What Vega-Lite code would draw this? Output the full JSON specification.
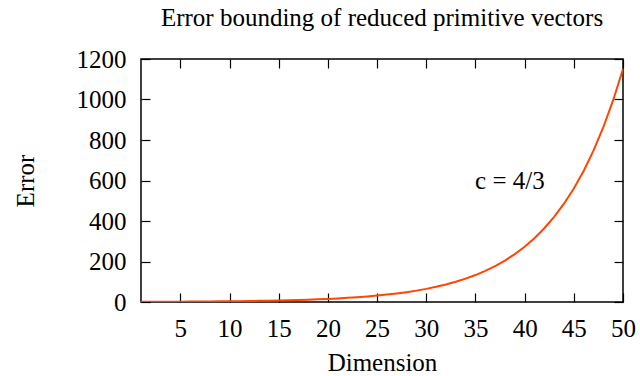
{
  "$schema": "https://vega.github.io/schema/vega-lite/v6.json",
  "autosize": {"type": "none"},
  "padding": {"left": 141, "top": 59, "right": 17, "bottom": 74},
  "width": 482,
  "height": 243,
  "background": "white",
  "title": {"text": "Error bounding of reduced primitive vectors", "font": "Liberation Serif", "fontSize": 25, "fontWeight": "normal", "color": "black", "anchor": "middle", "offset": 16},
  "config": {
    "view": {"stroke": "black", "strokeWidth": 1.5},
    "axis": {"labelFont": "Liberation Serif", "titleFont": "Liberation Serif", "labelFontSize": 25, "titleFontSize": 25, "titleFontWeight": "normal", "labelColor": "black", "titleColor": "black", "grid": false, "domain": false, "tickColor": "black", "tickWidth": 1.2, "labelFlush": false, "format": "d"}
  },
  "data": {"values": [
    {"dim": 1, "error": 1},
    {"dim": 2, "error": 1.1547},
    {"dim": 3, "error": 1.3333},
    {"dim": 4, "error": 1.5396},
    {"dim": 5, "error": 1.7778},
    {"dim": 6, "error": 2.0528},
    {"dim": 7, "error": 2.3704},
    {"dim": 8, "error": 2.7371},
    {"dim": 9, "error": 3.1605},
    {"dim": 10, "error": 3.6494},
    {"dim": 11, "error": 4.214},
    {"dim": 12, "error": 4.8659},
    {"dim": 13, "error": 5.6187},
    {"dim": 14, "error": 6.4879},
    {"dim": 15, "error": 7.4915},
    {"dim": 16, "error": 8.6505},
    {"dim": 17, "error": 9.9887},
    {"dim": 18, "error": 11.534},
    {"dim": 19, "error": 13.318},
    {"dim": 20, "error": 15.378},
    {"dim": 21, "error": 17.757},
    {"dim": 22, "error": 20.504},
    {"dim": 23, "error": 23.676},
    {"dim": 24, "error": 27.339},
    {"dim": 25, "error": 31.569},
    {"dim": 26, "error": 36.452},
    {"dim": 27, "error": 42.092},
    {"dim": 28, "error": 48.603},
    {"dim": 29, "error": 56.123},
    {"dim": 30, "error": 64.804},
    {"dim": 31, "error": 74.831},
    {"dim": 32, "error": 86.406},
    {"dim": 33, "error": 99.774},
    {"dim": 34, "error": 115.21},
    {"dim": 35, "error": 133.03},
    {"dim": 36, "error": 153.61},
    {"dim": 37, "error": 177.37},
    {"dim": 38, "error": 204.81},
    {"dim": 39, "error": 236.5},
    {"dim": 40, "error": 273.09},
    {"dim": 41, "error": 315.33},
    {"dim": 42, "error": 364.11},
    {"dim": 43, "error": 420.44},
    {"dim": 44, "error": 485.48},
    {"dim": 45, "error": 560.59},
    {"dim": 46, "error": 647.3},
    {"dim": 47, "error": 747.45},
    {"dim": 48, "error": 863.08},
    {"dim": 49, "error": 996.6},
    {"dim": 50, "error": 1150.8}
  ]},
  "layer": [
    {
      "mark": {"type": "line", "color": "#ff4500", "strokeWidth": 2, "clip": true},
      "encoding": {
        "x": {"field": "dim", "type": "quantitative", "scale": {"domain": [1, 50], "nice": false, "zero": false},
              "axis": {"orient": "bottom", "values": [5, 10, 15, 20, 25, 30, 35, 40, 45, 50], "tickSize": -9, "labelPadding": 23, "title": "Dimension", "titlePadding": 9}},
        "y": {"field": "error", "type": "quantitative", "scale": {"domain": [0, 1200], "nice": false},
              "axis": {"orient": "left", "values": [0, 200, 400, 600, 800, 1000, 1200], "tickSize": -9, "labelPadding": 24, "title": "Error", "titlePadding": 38}}
      }
    },
    {
      "data": {"values": [{"dim": 38.5, "error": 600, "label": "c = 4/3"}]},
      "mark": {"type": "text", "font": "Liberation Serif", "fontSize": 25, "color": "black", "align": "center", "baseline": "middle"},
      "encoding": {
        "x": {"field": "dim", "type": "quantitative", "axis": {"orient": "top", "values": [5, 10, 15, 20, 25, 30, 35, 40, 45, 50], "tickSize": -9, "labels": false, "title": null}},
        "y": {"field": "error", "type": "quantitative", "axis": {"orient": "right", "values": [0, 200, 400, 600, 800, 1000, 1200], "tickSize": -9, "labels": false, "title": null}},
        "text": {"field": "label"}
      }
    }
  ],
  "resolve": {"axis": {"x": "independent", "y": "independent"}}
}
